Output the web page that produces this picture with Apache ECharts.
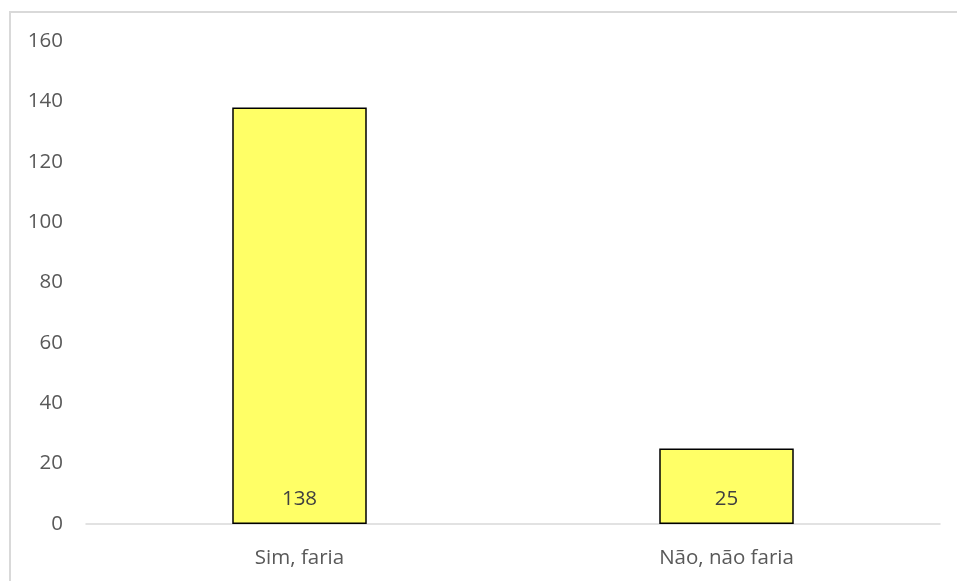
<!DOCTYPE html>
<html>
<head>
<meta charset="utf-8">
<script src="https://cdn.jsdelivr.net/npm/echarts@6/dist/echarts.min.js"></script>
<style>
  html, body { margin: 0; padding: 0; background: #ffffff; }
  #chart { width: 957px; height: 581px; }
</style>
</head>
<body>
<div id="chart"></div>
<script>
// Survey answers and their counts
const categories = ['Sim, faria', 'Não, não faria'];
const counts = [138, 25];
const yTicks = { min: 0, max: 160, step: 20 };

const FONT = '"Open Sans", sans-serif';
const FS = 20.5;

const chart = echarts.init(document.getElementById('chart'), null, { renderer: 'canvas' });

chart.setOption({
  backgroundColor: '#ffffff',
  animation: false,
  graphic: [
    {
      // outer frame of the chart area (open at right and bottom)
      type: 'polyline',
      shape: { points: [[10, 600], [10, 12], [980, 12]] },
      style: { stroke: '#d9d9d9', lineWidth: 2, fill: null },
      silent: true
    }
  ],
  grid: { left: 86, right: 17, top: 41, bottom: 57, containLabel: false },
  xAxis: {
    type: 'category',
    data: categories,
    axisLine: { show: true, lineStyle: { color: '#d9d9d9', width: 1.5 } },
    axisTick: { show: false },
    axisLabel: { color: '#595959', fontSize: FS, fontFamily: FONT, margin: 24 }
  },
  yAxis: {
    type: 'value',
    min: yTicks.min,
    max: yTicks.max,
    interval: yTicks.step,
    axisLine: { show: false },
    axisTick: { show: false },
    splitLine: { show: false },
    axisLabel: { color: '#595959', fontSize: FS, fontFamily: FONT, margin: 23 }
  },
  series: [
    {
      type: 'bar',
      data: counts,
      barWidth: '31.5%',
      itemStyle: { color: '#ffff66', borderColor: '#000000', borderWidth: 1.5 },
      label: {
        show: true,
        position: 'insideBottom',
        distance: 14,
        color: '#404040',
        fontSize: FS,
        fontFamily: FONT
      }
    }
  ]
});
</script>
</body>
</html>
